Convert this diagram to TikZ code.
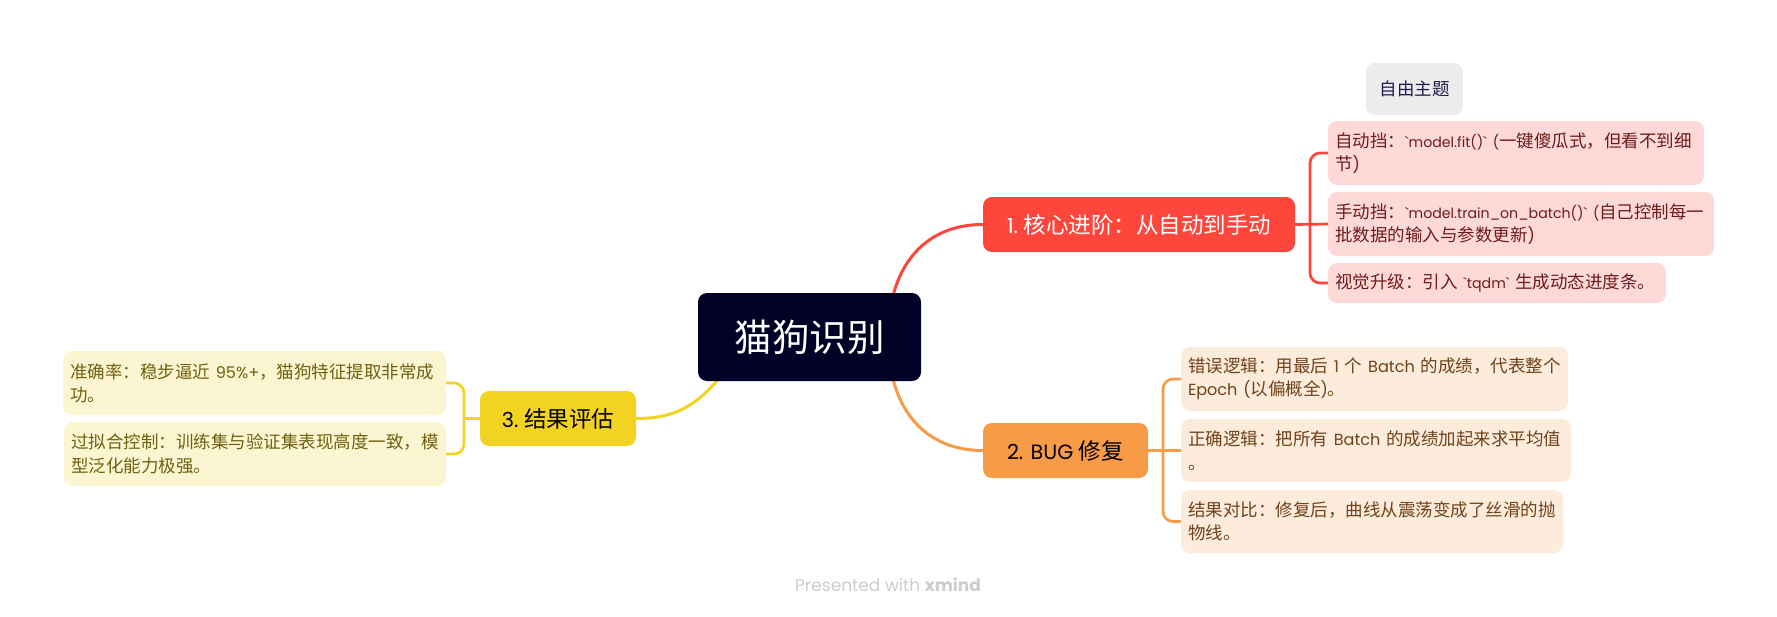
\documentclass[tikz,border=0pt]{standalone}
\usepackage{fontspec}
\setmainfont{Noto Sans CJK SC}
\newfontfamily\lat[Scale=0.92]{Poppins}
\newfontfamily\latc[Scale=0.81]{Poppins}
\usetikzlibrary{backgrounds}
\definecolor{rootfill}{HTML}{010127}
\definecolor{redmain}{HTML}{FF463C}
\definecolor{redleaf}{HTML}{FFD9D8}
\definecolor{redtext}{HTML}{6B1D1A}
\definecolor{orgmain}{HTML}{F79B47}
\definecolor{orgleaf}{HTML}{FDEBDC}
\definecolor{orgtext}{HTML}{6E4319}
\definecolor{yelmain}{HTML}{F3D321}
\definecolor{yelleaf}{HTML}{FCF5D2}
\definecolor{yeltext}{HTML}{6F6110}
\definecolor{freefill}{HTML}{EDEBEE}
\definecolor{freetext}{HTML}{1D1D48}
\tikzset{
box node/.style={rounded corners=9,inner sep=0,align=center},
main node/.style={box node,font=\fontsize{22.5}{27}\selectfont},
leaf node/.style 2 args={box node,minimum width=#1,minimum height=#2,text width=#1-14,inner xsep=7,align=left,font=\fontsize{17.5}{23.3}\selectfont},
tronco/.style={line width=3,line cap=round},
ramo/.style={line width=2.7,rounded corners=10}}
\begin{document}
\begin{tikzpicture}[x=1pt,y=-1pt]
\useasboundingbox (0,0) rectangle (1777,616);

\node[box node,fill=rootfill,text=white,minimum width=223,minimum height=88,font=\fontsize{37.5}{44}\selectfont] (root) at (809.5,337) {猫狗识别};
\node[main node,fill=redmain,text=white,minimum width=312,minimum height=55] (red) at (1139,224.5) {\lat 1.\ \rmfamily 核心进阶：从自动到手动};
\node[main node,fill=orgmain,text=black,minimum width=165,minimum height=55] (org) at (1065.5,450.5) {\lat 2. BUG \rmfamily 修复};
\node[main node,fill=yelmain,text=black,minimum width=156,minimum height=55] (yel) at (558,418.5) {\lat 3.\ \rmfamily 结果评估};

\node[box node,fill=freefill,text=freetext,minimum width=97,minimum height=52,font=\fontsize{17.5}{23.3}\selectfont] (free) at (1414.5,89) {自由主题};

\node[leaf node={376}{64},fill=redleaf,text=redtext] (r1) at (1516,153) {\mbox{自动挡：\latc\char96 model.fit()\char96\ (\rmfamily 一键傻瓜式，但看不到细}\\节\lat )};
\node[leaf node={386}{64},fill=redleaf,text=redtext] (r2) at (1521,224) {\mbox{手动挡：\latc\char96 model.train\_on\_batch()\char96\ (\rmfamily 自己控制每一}\\批数据的输入与参数更新\lat )};
\node[leaf node={338}{40},fill=redleaf,text=redtext] (r3) at (1497,283) {\mbox{视觉升级：引入 \latc\char96 tqdm\char96\ \rmfamily 生成动态进度条。}};

\node[leaf node={387}{64},fill=orgleaf,text=orgtext] (o1) at (1374.5,379) {\mbox{错误逻辑：用最后 \lat 1 \rmfamily 个 \lat Batch \rmfamily 的成绩，代表整个}\\\lat Epoch (\rmfamily 以偏概全\lat )\rmfamily 。};
\node[leaf node={390}{63},fill=orgleaf,text=orgtext] (o2) at (1376,450.5) {\mbox{正确逻辑：把所有 \lat Batch \rmfamily 的成绩加起来求平均值}\\。};
\node[leaf node={382}{63},fill=orgleaf,text=orgtext] (o3) at (1372,521.5) {\mbox{结果对比：修复后，曲线从震荡变成了丝滑的抛}\\物线。};

\node[leaf node={383}{64},fill=yelleaf,text=yeltext] (y1) at (254.5,383) {\mbox{准确率：稳步逼近 \lat 95\%+\rmfamily ，猫狗特征提取非常成}\\功。};
\node[leaf node={382}{64},fill=yelleaf,text=yeltext] (y2) at (255,454) {\mbox{过拟合控制：训练集与验证集表现高度一致，模}\\型泛化能力极强。};

\node[text=gray!40,font=\fontsize{18.5}{24}\selectfont] (foot) at (888,585) {\lat Presented with \bfseries xmind};

\coordinate (rstart) at (892,300);
\coordinate (ostart) at (892,375);
\coordinate (ystart) at (722,375);
\coordinate (rj) at (1310,225);
\coordinate (oj) at (1163,451);
\coordinate (yj) at (464,418.5);

\begin{scope}[on background layer]
\draw[tronco,redmain] (rstart) .. controls +(10,-45) and +(-50,0) .. (red.west);
\draw[tronco,orgmain] (ostart) .. controls +(10,45) and +(-50,0) .. (org.west);
\draw[tronco,yelmain] (ystart) .. controls +(-25,30) and +(40,0) .. (yel.east);
\end{scope}

\draw[ramo,redmain] (r1.west) -| (rj) |- (r3.west);
\draw[ramo,redmain] (red.east) -- (r2.west);
\draw[ramo,orgmain] (o1.west) -| (oj) |- (o3.west);
\draw[ramo,orgmain] (org.east) -- (o2.west);
\draw[ramo,yelmain] (y1.east) -| (yj) |- (y2.east);
\draw[ramo,yelmain] (yel.west) -- (yj);
\end{tikzpicture}
\end{document}
